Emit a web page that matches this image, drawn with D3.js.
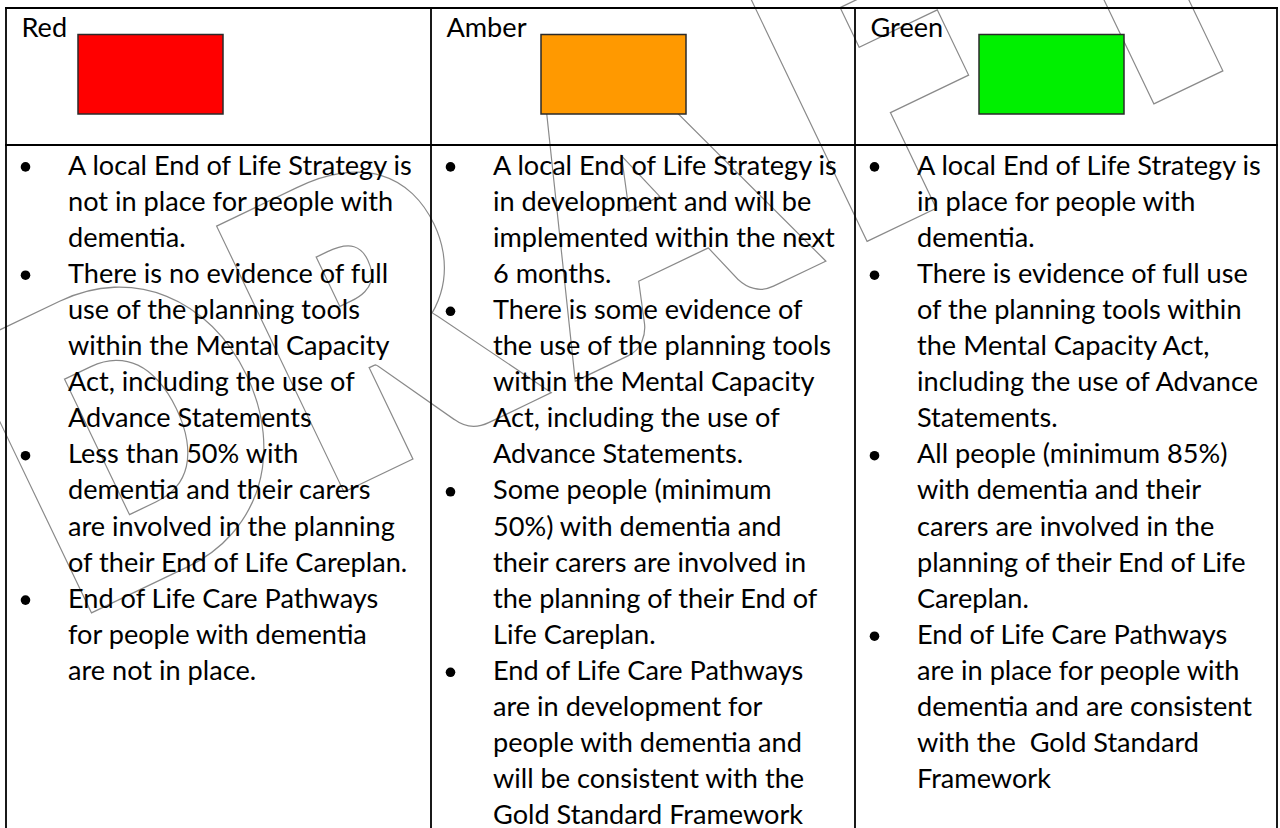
<!DOCTYPE html>
<html><head><meta charset="utf-8">
<script src="https://cdn.jsdelivr.net/npm/d3@7/dist/d3.min.js"></script>
<style>html,body{margin:0;padding:0;background:#fff}svg{display:block}</style>
</head><body>
<svg id="c" width="1280" height="828"></svg>
<script>
// ---------------- data ----------------
const columnLabels = ["Red", "Amber", "Green"];
const swatchFill = ["#ff0000", "#ff9900", "#00f000"];
const redBullets = [
  ["A local End of Life Strategy is", "not in place for people with", "dementia."],
  ["There is no evidence of full", "use of the planning tools", "within the Mental Capacity", "Act, including the use of", "Advance Statements"],
  ["Less than 50% with", "dementia and their carers", "are involved in the planning", "of their End of Life Careplan."],
  ["End of Life Care Pathways", "for people with dementia", "are not in place."]
];
const amberBullets = [
  ["A local End of Life Strategy is", "in development and will be", "implemented within the next", "6 months."],
  ["There is some evidence of", "the use of the planning tools", "within the Mental Capacity", "Act, including the use of", "Advance Statements."],
  ["Some people (minimum", "50%) with dementia and", "their carers are involved in", "the planning of their End of", "Life Careplan."],
  ["End of Life Care Pathways", "are in development for", "people with dementia and", "will be consistent with the", "Gold Standard Framework"]
];
const greenBullets = [
  ["A local End of Life Strategy is", "in place for people with", "dementia."],
  ["There is evidence of full use", "of the planning tools within", "the Mental Capacity Act,", "including the use of Advance", "Statements."],
  ["All people (minimum 85%)", "with dementia and their", "carers are involved in the", "planning of their End of Life", "Careplan."],
  ["End of Life Care Pathways", "are in place for people with", "dementia and are consistent", "with the\u00a0 Gold Standard", "Framework"]
];
const watermarkText = "DRAFT";

// ---------------- layout ----------------
const layout = {
  colEdges: [6, 431, 855, 1277], top: 8, headerBottom: 145, bottom: 840,
  labelDx: 15.5, labelBaseline: 36.7,
  swatchDx: [72, 110, 124], swatchTop: 34.5, swatchW: 145, swatchH: 79.5,
  bulletDx: 19.5, textDx: 62, firstBaseline: 174.5, lineStep: 36.1,
  font: "Lato, 'Open Sans', sans-serif", fontSize: 26.5
};
// watermark placement: outlined letters set along a rotated baseline
const wm = {
  angle: -25.6, anchor: [92, 612], size: 366, squeeze: 0.907, grow: 14,
  inkLeft: [0, 280, 546, 860, null], stemCenterT: 1210.5,
  lsb: [0.0807, 0.0807, 0.006, 0.0807, 0], tCenter: 0.2875
};

const svg = d3.select("#c");
const colX = d3.scaleOrdinal(columnLabels, layout.colEdges.slice(0, 3));
const lineY = d3.scaleLinear().domain([0, 1]).range([layout.firstBaseline, layout.firstBaseline + layout.lineStep]);

// ---------------- watermark ----------------
const th = wm.angle * Math.PI / 180;
const bdir = [Math.cos(th), Math.sin(th)];          // along the baseline
const ndir = [-Math.sin(th), Math.cos(th)];         // towards the letters' "down"
const letters = watermarkText.split("").map((ch, i) => {
  const origRel = ch === "T"
    ? wm.stemCenterT - wm.tCenter * wm.size * wm.squeeze
    : wm.inkLeft[i] + wm.grow - wm.lsb[i] * wm.size * wm.squeeze;
  const x = wm.anchor[0] + origRel * bdir[0] - wm.grow * ndir[0];
  const y = wm.anchor[1] + origRel * bdir[1] - wm.grow * ndir[1];
  return { ch, x, y };
});
const wmG = svg.append("g").attr("class", "watermark");
[["#8a8a8a", 2 * wm.grow + 2.6], ["#ffffff", 2 * wm.grow]].forEach(([col, sw]) => {
  wmG.append("g").selectAll("text").data(letters).join("text")
    .attr("transform", d => `translate(${d.x},${d.y}) rotate(${wm.angle}) scale(${wm.squeeze},1)`)
    .attr("font-family", "Lato, 'Open Sans', sans-serif")
    .attr("font-weight", 900)
    .attr("font-size", wm.size)
    .attr("fill", col)
    .attr("stroke", col)
    .attr("stroke-width", sw)
    .attr("stroke-linejoin", "miter")
    .attr("stroke-miterlimit", 6)
    .text(d => d.ch);
});

// ---------------- table grid ----------------
const grid = svg.append("g").attr("stroke", "#000").attr("stroke-width", 1.8);
const x0 = layout.colEdges[0], x3 = layout.colEdges[3];
grid.selectAll("line.h").data([layout.top, layout.headerBottom]).join("line")
  .attr("class", "h")
  .attr("x1", x0 - 0.9).attr("x2", x3 + 0.9).attr("y1", d => d).attr("y2", d => d);
grid.selectAll("line.v").data(layout.colEdges).join("line")
  .attr("class", "v")
  .attr("x1", d => d).attr("x2", d => d).attr("y1", layout.top - 0.9).attr("y2", layout.bottom);

// ---------------- header ----------------
const header = svg.append("g");
header.selectAll("rect").data(columnLabels).join("rect")
  .attr("x", (d, i) => colX(d) + layout.swatchDx[i])
  .attr("y", layout.swatchTop)
  .attr("width", layout.swatchW).attr("height", layout.swatchH)
  .attr("fill", (d, i) => swatchFill[i])
  .attr("stroke", "#2a2a2a").attr("stroke-width", 1.5);
header.selectAll("text").data(columnLabels).join("text")
  .attr("class", "t")
  .attr("x", d => colX(d) + layout.labelDx)
  .attr("y", layout.labelBaseline)
  .text(d => d);

// ---------------- body ----------------
const bodies = [redBullets, amberBullets, greenBullets];
const rows = [];
bodies.forEach((items, ci) => {
  let k = 0;
  items.forEach(lines => {
    lines.forEach((ln, li) => { rows.push({ col: columnLabels[ci], k, text: ln, first: li === 0 }); k++; });
  });
});
const body = svg.append("g");
body.selectAll("circle").data(rows.filter(r => r.first)).join("circle")
  .attr("cx", d => colX(d.col) + layout.bulletDx)
  .attr("cy", d => lineY(d.k) - 7.6)
  .attr("r", 4.8).attr("fill", "#000");
const lineTexts = body.selectAll("text").data(rows).join("text")
  .attr("class", "t")
  .attr("x", d => colX(d.col) + layout.textDx)
  .attr("y", d => lineY(d.k))
  .text(d => d.text);

svg.selectAll("text.t")
  .attr("font-family", layout.font)
  .attr("font-size", layout.fontSize)
  .attr("fill", "#000")
  .style("white-space", "pre");

// calibrate horizontal scale of the substitute font against measured reference lines
const refs = [
  { col: "Red", text: "A local End of Life Strategy is", w: 340 },
  { col: "Amber", text: "implemented within the next", w: 346 },
  { col: "Green", text: "including the use of Advance", w: 340.6 }
];
const ratios = [];
lineTexts.each(function (d) {
  const r = refs.find(q => q.col === d.col && q.text === d.text);
  if (r) ratios.push(r.w / this.getComputedTextLength());
});
const ratio = d3.mean(ratios) || 1;
svg.selectAll("text.t").each(function () {
  const n = this.getComputedTextLength();
  d3.select(this).attr("textLength", n * ratio).attr("lengthAdjust", "spacingAndGlyphs");
});
</script>
</body></html>
